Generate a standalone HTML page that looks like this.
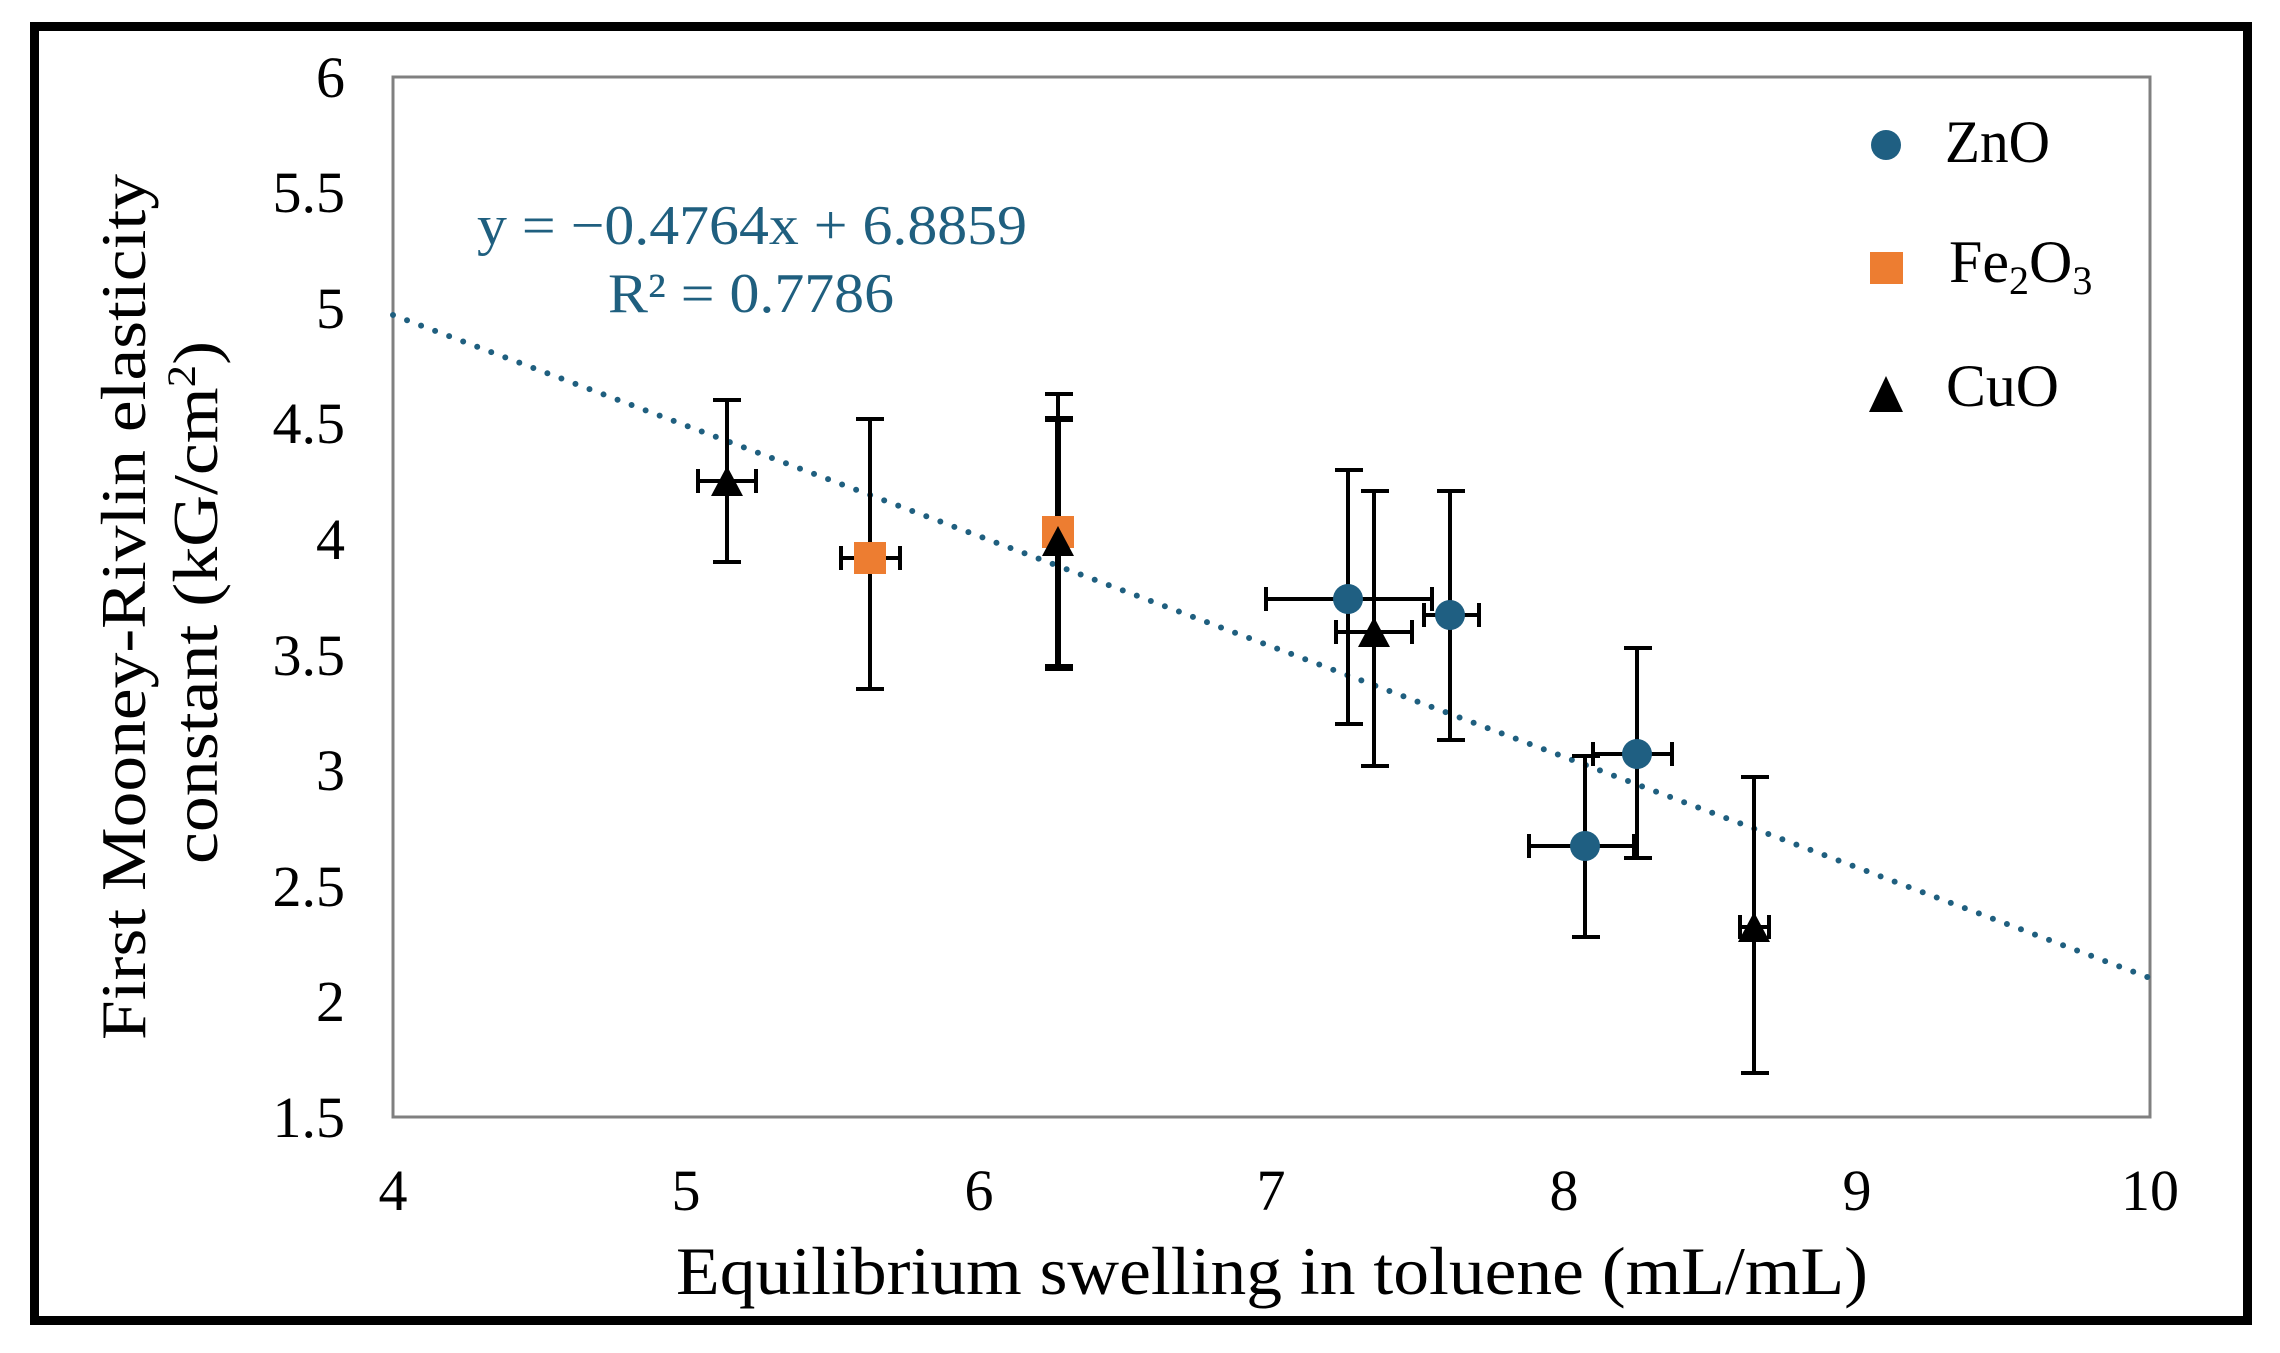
<!DOCTYPE html>
<html><head><meta charset="utf-8"><style>html,body{margin:0;padding:0;background:#fff}svg{display:block}</style></head>
<body>
<svg width="2280" height="1353" viewBox="0 0 2280 1353" xmlns="http://www.w3.org/2000/svg" font-family="Liberation Serif, serif">
<rect x="0" y="0" width="2280" height="1353" fill="#fff"/>
<rect x="34.5" y="26.5" width="2213" height="1294" fill="none" stroke="#000" stroke-width="9"/>
<rect x="393" y="77" width="1757" height="1040" fill="none" stroke="#808080" stroke-width="3"/>
<g font-size="58" fill="#000" text-anchor="end">
<text x="345" y="97">6</text><text x="345" y="212">5.5</text><text x="345" y="328">5</text>
<text x="345" y="443">4.5</text><text x="345" y="559">4</text><text x="345" y="675">3.5</text>
<text x="345" y="790">3</text><text x="345" y="906">2.5</text><text x="345" y="1021">2</text><text x="345" y="1137">1.5</text>
</g>
<g font-size="58" fill="#000" text-anchor="middle">
<text x="393" y="1210">4</text><text x="686" y="1210">5</text><text x="979" y="1210">6</text>
<text x="1271" y="1210">7</text><text x="1564" y="1210">8</text><text x="1857" y="1210">9</text><text x="2150" y="1210">10</text>
</g>
<text x="676" y="1294" font-size="68" textLength="1192" lengthAdjust="spacingAndGlyphs">Equilibrium swelling in toluene (mL/mL)</text>
<g transform="translate(145,607) rotate(-90)" font-size="64">
<text x="-433" y="0" textLength="866" lengthAdjust="spacingAndGlyphs">First Mooney-Rivlin elasticity</text>
<text x="-257" y="72" textLength="523" lengthAdjust="spacingAndGlyphs">constant (kG/cm<tspan baseline-shift="super" font-size="40">2</tspan>)</text>
</g>
<line x1="393" y1="315" x2="2150" y2="978" stroke="#1f5f7f" stroke-width="6" stroke-linecap="round" stroke-dasharray="0 15"/>
<g font-size="56" fill="#1f5f7f">
<text x="477" y="244" textLength="550" lengthAdjust="spacingAndGlyphs">y = −0.4764x + 6.8859</text>
<text x="608" y="312" textLength="286" lengthAdjust="spacingAndGlyphs">R² = 0.7786</text>
</g>
<g stroke="#000" stroke-width="4" fill="none">
<path d="M727 400V562M713 400h28M713 562h28M698 481h58M698 469v24M756 469v24"/>
<path d="M870 419V689M856 419h28M856 689h28M841 558h59M841 546v24M900 546v24"/>
<path d="M1058 394V666M1045 394h28M1045 666h28"/>
<path d="M1058 419V666M1045 419h28M1045 668h28" stroke-width="6"/>
<path d="M1348 470V724M1335 470h28M1335 724h28M1266 599h166M1266 587v24M1432 587v24"/>
<path d="M1374 491V766M1361 491h28M1361 766h28M1336 632h76M1336 620v24M1412 620v24"/>
<path d="M1450 491V740M1437 491h28M1437 740h28M1424 615h55M1424 603v24M1479 603v24"/>
<path d="M1637 648V858M1624 648h28M1624 858h28M1593 754h79M1593 742v24M1672 742v24"/>
<path d="M1585 756V937M1572 756h28M1572 937h28M1529 846h105M1529 834v24M1634 834v24"/>
<path d="M1754 777V1073M1741 777h28M1741 1073h28M1740 927h29M1740 915v24M1769 915v24"/>
</g>
<g fill="#ed7d31">
<rect x="854" y="542" width="32" height="32"/>
<rect x="1042" y="516" width="32" height="32"/>
</g>
<g fill="#1f5f82">
<circle cx="1348" cy="599" r="15"/>
<circle cx="1450" cy="615" r="15"/>
<circle cx="1637" cy="754" r="15"/>
<circle cx="1585" cy="846" r="15"/>
</g>
<g fill="#000">
<path d="M727 466l16 30h-32z"/>
<path d="M1058 526l16 30h-32z"/>
<path d="M1374 617l16 30h-32z"/>
<path d="M1754 912l16 30h-32z"/>
</g>
<circle cx="1886" cy="145" r="15" fill="#1f5f82"/>
<rect x="1870" y="252" width="33" height="32" fill="#ed7d31"/>
<path d="M1886 376l17 36h-34z" fill="#000"/>
<g font-size="60" fill="#000">
<text x="1945" y="162" textLength="105" lengthAdjust="spacingAndGlyphs">ZnO</text>
<text x="1949" y="282">Fe<tspan font-size="40" dy="12">2</tspan><tspan dy="-12">O</tspan><tspan font-size="40" dy="12">3</tspan></text>
<text x="1946" y="406" textLength="113" lengthAdjust="spacingAndGlyphs">CuO</text>
</g>
</svg>
</body></html>
